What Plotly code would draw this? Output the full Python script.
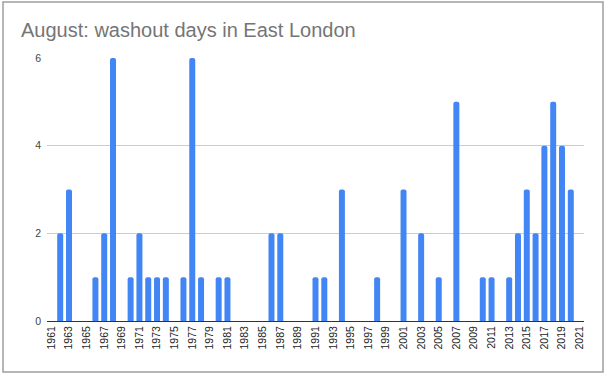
import plotly.graph_objects as go

years = list(range(1961, 2022))
washout_days = [
    0, 2, 3, 0, 0, 1, 2, 6, 0, 1,   # 1961-1970
    2, 1, 1, 1, 0, 1, 6, 1, 0, 1,   # 1971-1980
    1, 0, 0, 0, 0, 2, 2, 0, 0, 0,   # 1981-1990
    1, 1, 0, 3, 0, 0, 0, 1, 0, 0,   # 1991-2000
    3, 0, 2, 0, 1, 0, 5, 0, 0, 1,   # 2001-2010
    1, 0, 1, 2, 3, 2, 4, 5, 4, 3,   # 2011-2020
    0,                              # 2021
]
tick_years = list(range(1961, 2022, 2))
y_ticks = [0, 2, 4, 6]

L, R, T, B = 47, 23, 58, 56
PW, PH = 607 - L - R, 377 - T - B

fig = go.Figure(go.Bar(
    x=years, y=washout_days, width=0.68,
    marker=dict(color="#4285F4", line=dict(width=0), cornerradius=2),
    hoverinfo="x+y",
))

fig.update_layout(
    width=607, height=377,
    margin=dict(l=L, r=R, t=T, b=B),
    paper_bgcolor="white", plot_bgcolor="white",
    font=dict(family="Liberation Sans, Arial, sans-serif", color="#444444"),
    title=dict(text="August: washout days in East London", x=21/607, xanchor="left",
               y=1-30/377, yanchor="middle",
               font=dict(size=20, color="#757575", family="Liberation Sans, Arial, sans-serif")),
    showlegend=False,
    bargap=0.3,
)
fig.update_xaxes(
    range=[1960.5, 2021.5], tickmode="array", tickvals=tick_years,
    ticktext=[str(t) for t in tick_years], tickangle=-90,
    tickfont=dict(size=10.5, color="#222222"), showgrid=False,
    showline=True, linecolor="#333333", linewidth=1, ticks="", zeroline=False,
)
fig.update_yaxes(
    range=[0, 6], tickmode="array", tickvals=y_ticks,
    tickfont=dict(size=10.5, color="#444444"), gridcolor="#cccccc", gridwidth=1,
    zeroline=True, zerolinecolor="#333333", zerolinewidth=1, ticks="",
    ticklabelstandoff=5,
)
# chart frame
fig.add_shape(type="rect", xref="paper", yref="paper",
              x0=(3 - L) / PW, x1=(603 - L) / PW,
              y0=(377 - B - 372) / PH, y1=(377 - B - 2) / PH,
              line=dict(color="#9e9e9e", width=1.5), fillcolor="rgba(0,0,0,0)", layer="below")

fig.write_html("out.html")
